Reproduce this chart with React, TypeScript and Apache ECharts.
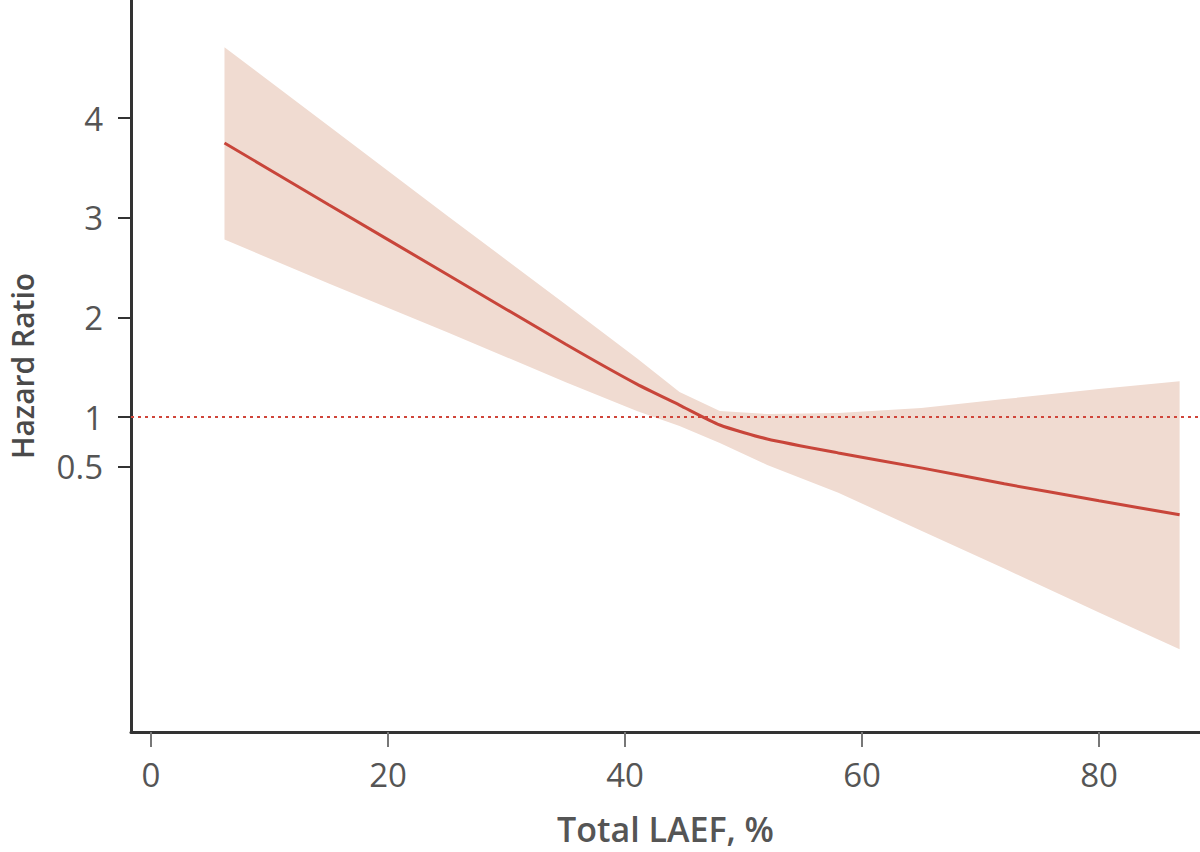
import React, { useEffect, useRef } from "react";
import * as echarts from "echarts";

const X_PCT = [6.2, 15, 25, 35, 41, 44.6, 48, 52, 58, 65, 72, 80, 86.8];
const HR = [3.75, 3.13, 2.43, 1.73, 1.33, 1.12, 0.92, 0.78, 0.64, 0.49, 0.33, 0.16, 0.02];
const UPPER = [4.71, 3.92, 3.02, 2.13, 1.59, 1.25, 1.06, 1.03, 1.04, 1.09, 1.18, 1.28, 1.36];
const LOWER = [2.78, 2.34, 1.85, 1.35, 1.06, 0.91, 0.74, 0.52, 0.24, -0.14, -0.52, -0.96, -1.33];
const X_TICKS = [0, 20, 40, 60, 80];
const Y_TICKS = [0.5, 1, 2, 3, 4];
const REF_HR = 1;

export default function App() {
  const ref = useRef<HTMLDivElement>(null);
  useEffect(() => {
    if (!ref.current) return;
    const chart = echarts.init(ref.current, null, { renderer: "svg" });
    const font = "'Open Sans', 'Noto Sans', sans-serif";
    chart.setOption({
      animation: false,
      backgroundColor: "#ffffff",
      grid: { left: 131, right: 0, top: 0, bottom: 120, containLabel: false, outerBoundsMode: "none" },
      xAxis: {
        type: "value",
        min: -1.688,
        max: 88.52,
        name: "Total LAEF, %",
        nameLocation: "middle",
        nameGap: 80,
        nameTextStyle: { fontFamily: font, fontSize: 34, fontWeight: 600, color: "#555555" },
        axisLine: { show: true, onZero: false, lineStyle: { color: "#333333", width: 3 } },
        axisTick: { show: true, length: 15, customValues: X_TICKS, lineStyle: { color: "#777777", width: 2 } },
        axisLabel: { customValues: X_TICKS, margin: 26, fontFamily: font, fontSize: 33, color: "#555555" },
        splitLine: { show: false },
      },
      yAxis: {
        type: "value",
        min: -2.16,
        max: 5.184,
        name: "Hazard Ratio",
        nameLocation: "middle",
        nameGap: 94,
        nameTextStyle: { fontFamily: font, fontSize: 30, fontWeight: 600, color: "#4a4a4a" },
        axisLine: { show: true, onZero: false, lineStyle: { color: "#333333", width: 3 } },
        axisTick: { show: true, length: 13, customValues: Y_TICKS, lineStyle: { color: "#333333", width: 2 } },
        axisLabel: {
          customValues: Y_TICKS,
          margin: 28,
          fontFamily: font,
          fontSize: 33,
          color: "#555555",
          formatter: (v: number) => String(v),
        },
        splitLine: { show: false },
      },
      series: [
        {
          name: "reference",
          type: "line",
          data: X_PCT.map((x, i) => [x, HR[i]]),
          symbol: "none",
          lineStyle: { opacity: 0 },
          z: 1,
          silent: true,
          markLine: {
            silent: true,
            symbol: "none",
            label: { show: false },
            lineStyle: { type: [3, 4], color: "#d0453a", width: 2 },
            data: [{ yAxis: REF_HR }],
          },
        },
        {
          name: "band",
          type: "custom",
          z: 2,
          silent: true,
          clip: true,
          data: X_PCT.map((x, i) => [x, UPPER[i], LOWER[i]]),
          encode: { x: 0, y: [1, 2] },
          renderItem: (params: any, api: any) => {
            if (params.dataIndex !== 0) return null;
            const pts: number[][] = [];
            for (let i = 0; i < X_PCT.length; i++) pts.push(api.coord([X_PCT[i], UPPER[i]]));
            for (let i = X_PCT.length - 1; i >= 0; i--) pts.push(api.coord([X_PCT[i], LOWER[i]]));
            return {
              type: "polygon",
              shape: { points: pts },
              style: { fill: "#f0dbd1", stroke: "none" },
            };
          },
        },
        {
          name: "HR",
          type: "line",
          data: X_PCT.map((x, i) => [x, HR[i]]),
          symbol: "none",
          smooth: 0.2,
          lineStyle: { color: "#c8453a", width: 3 },
          z: 3,
        },
      ],
    });
    return () => chart.dispose();
  }, []);
  return (
    <div
      ref={ref}
      style={{ position: "fixed", left: 0, top: 0, width: 1200, height: 852, background: "#fff" }}
    />
  );
}
